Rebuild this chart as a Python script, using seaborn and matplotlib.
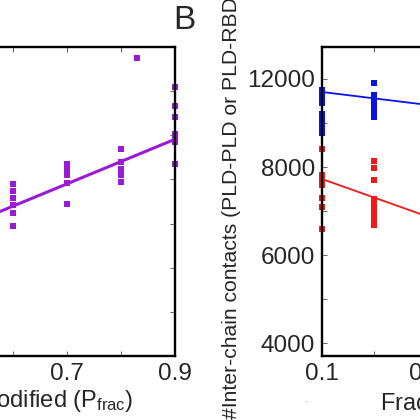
import numpy as np
import pandas as pd
import matplotlib
matplotlib.use("Agg")
import matplotlib.pyplot as plt
import seaborn as sns

# panel A (only its right part is in view)
left_pfrac = [0.6, 0.6, 0.6, 0.6, 0.6, 0.6,
              0.7, 0.7, 0.7, 0.7, 0.7,
              0.8, 0.8, 0.8, 0.8, 0.8,
              0.9, 0.9, 0.9, 0.9, 0.9, 0.9, 0.9,
              0.83]
left_value = [3.89, 3.73, 3.57, 3.41, 3.25, 2.95,
              4.34, 4.23, 4.09, 3.93, 3.45,
              4.70, 4.39, 4.23, 4.11, 3.95,
              6.09, 5.66, 5.41, 5.02, 4.91, 4.84, 4.34,
              6.75]
left_fit = (0.365, 5.05)  # intercept, slope

# panel B: PLD-PLD (blue) and PLD-RBD (red) contacts
blue_pfrac = [0.1, 0.1, 0.1, 0.1, 0.1, 0.1, 0.1, 0.1, 0.1,
              0.2, 0.2, 0.2, 0.2, 0.2, 0.2, 0.2, 0.2]
blue_contacts = [9750, 9659, 9568, 9455, 9205, 9114, 9000, 8886, 8773,
                 9909, 9636, 9545, 9455, 9364, 9273, 9182, 9136]
blue_fit = (9850, -1450)

red_pfrac = [0.1, 0.1, 0.1, 0.1, 0.1, 0.1, 0.1,
             0.2, 0.2, 0.2, 0.2, 0.2, 0.2, 0.2, 0.2, 0.2]
red_contacts = [8409, 7818, 7682, 7591, 7295, 7091, 6591,
                8136, 7977, 7705, 7273, 7159, 7045, 6932, 6818, 6682]
red_fit = (8147, -4200)

left_xticks = [0.6, 0.7, 0.8, 0.9]
left_xticklabels = ["", "0.7", "", "0.9"]
right_xticks = [0.1, 0.2, 0.3]
right_xticklabels = ["0.1", "", "0.3"]
right_yticks = [4000, 5000, 6000, 7000, 8000, 9000, 10000]
right_yticklabels = ["4000", "", "6000", "", "8000", "", "12000"]

purple = "#9a1ad6"
blue = "#0a14e6"
red = "#ee1a1a"

sns.set_style("ticks")
plt.rcParams["font.family"] = ["Liberation Sans", "DejaVu Sans"]
plt.rcParams["mathtext.default"] = "regular"

W = H = 420
fig = plt.figure(figsize=(4.2, 4.2), dpi=100)

# axes placed in pixel terms, both run past the image edges
axA = fig.add_axes([-257 / W, (H - 356) / H, 432 / W, 309 / H])
axB = fig.add_axes([322 / W, (H - 356) / H, 416 / W, 309 / H])

dfA = pd.DataFrame({"pfrac": left_pfrac, "value": left_value})
sns.scatterplot(data=dfA, x="pfrac", y="value", ax=axA, marker="s", s=17,
                color=purple, linewidth=0, clip_on=False, zorder=1)
fx = np.array([0.1, 0.9])
sns.lineplot(x=fx, y=left_fit[0] + left_fit[1] * fx, ax=axA, color=purple, lw=2.2)
axA.set_xlim(0.1, 0.9)
axA.set_ylim(0, 7)
axA.set_yticks(range(1, 7))
axA.set_xticks(left_xticks)
axA.set_xticklabels(left_xticklabels)

dfB = pd.DataFrame({
    "pfrac": blue_pfrac + red_pfrac,
    "contacts": blue_contacts + red_contacts,
    "kind": ["PLD-PLD"] * len(blue_pfrac) + ["PLD-RBD"] * len(red_pfrac),
})
sns.scatterplot(data=dfB, x="pfrac", y="contacts", hue="kind", ax=axB,
                palette={"PLD-PLD": blue, "PLD-RBD": red}, marker="s", s=17,
                linewidth=0, clip_on=False, zorder=1, legend=False)
sns.lineplot(x=fx, y=blue_fit[0] + blue_fit[1] * fx, ax=axB, color=blue, lw=1.3)
sns.lineplot(x=fx, y=red_fit[0] + red_fit[1] * fx, ax=axB, color=red, lw=1.3)
axB.set_xlim(0.1, 0.9)
axB.set_ylim(3705, 10727)
axB.set_yticks(right_yticks)
axB.set_yticklabels(right_yticklabels)
axB.set_xticks(right_xticks)
axB.set_xticklabels(right_xticklabels)

for ax in (axA, axB):
    ax.set_xlabel("")
    ax.set_ylabel("")
    ax.tick_params(direction="in", length=3.5, width=0.7, color="#666666",
                   top=True, right=True, labelsize=17.5, pad=5)
    for sp in ax.spines.values():
        sp.set_linewidth(1.7)
        sp.set_color("black")
        sp.set_zorder(2.5)
axA.tick_params(labelleft=False)

fig.text(133 / W, (H - 407) / H, "Fraction modified (P$_{frac}$)",
         fontsize=17, ha="right", va="baseline")
fig.text(380 / W, (H - 410) / H, "Fraction modified (P$_{frac}$)",
         fontsize=17, ha="left", va="baseline")
fig.text(231 / W, 1 / H, "#Inter-chain contacts (PLD-PLD or PLD-RBD)",
         fontsize=15.2, rotation=90, ha="center", va="bottom")
fig.text(173 / W, (H - 29) / H, "B", fontsize=24, ha="left", va="baseline")
fig.text(306 / W, (H - 401) / H, "-", fontsize=7, color="#bbbbbb",
         ha="center", va="center")

fig.savefig("out.png", dpi=100)
